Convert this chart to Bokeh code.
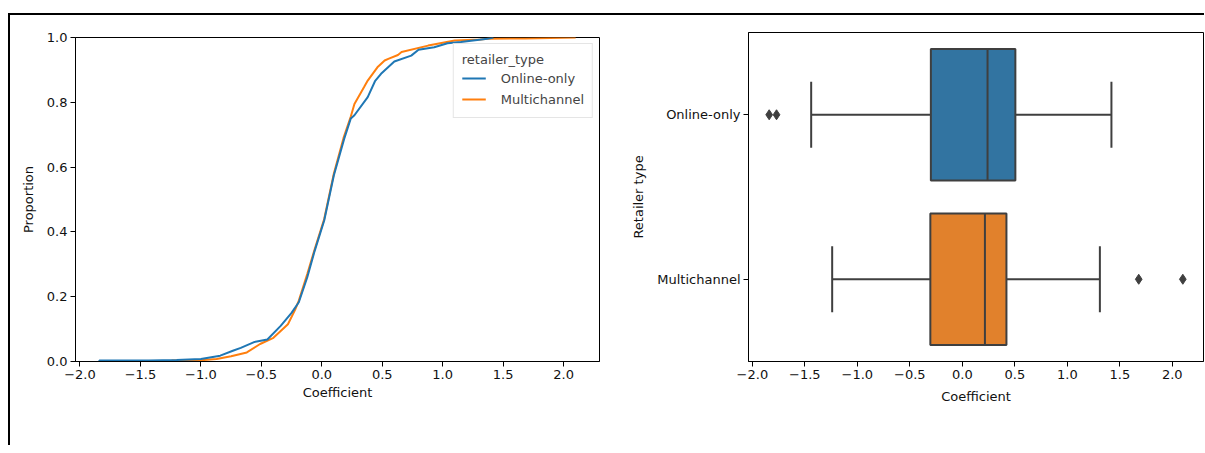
from bokeh.plotting import figure
from bokeh.layouts import row, column
from bokeh.models import (Range1d, FactorRange, FixedTicker, CustomJSTickFormatter,
                          Legend, LegendItem, ColumnDataSource)
from bokeh.transform import dodge
from bokeh.embed import file_html
from bokeh.resources import INLINE

# ---- ECDF points ----
online_x = [-1.84, -1.84, -1.43, -1.20, -1.00, -0.84, -0.73, -0.67, -0.56, -0.45, -0.34, -0.25,
            -0.19, -0.12, -0.06, 0.02, 0.10, 0.185, 0.24, 0.27, 0.38, 0.44, 0.49, 0.60, 0.74,
            0.80, 0.93, 1.04, 1.15, 1.37, 1.42]
online_p = [0.0, 0.003, 0.003, 0.005, 0.008, 0.018, 0.034, 0.042, 0.060, 0.068, 0.110, 0.150,
            0.183, 0.260, 0.340, 0.435, 0.575, 0.687, 0.750, 0.760, 0.816, 0.865, 0.888, 0.926, 0.944,
            0.962, 0.970, 0.982, 0.986, 0.996, 1.0]

multi_x = [-1.24, -1.24, -1.00, -0.87, -0.75, -0.62, -0.51, -0.40, -0.28, -0.22, -0.19, -0.12,
           -0.06, 0.02, 0.10, 0.18, 0.24, 0.27, 0.35, 0.38, 0.46, 0.52, 0.55, 0.63, 0.66, 0.88,
           1.10, 1.31, 1.37, 1.68, 2.10]
multi_p = [0.0, 0.003, 0.004, 0.008, 0.016, 0.028, 0.054, 0.073, 0.115, 0.160, 0.188, 0.270,
           0.345, 0.440, 0.580, 0.690, 0.756, 0.795, 0.847, 0.867, 0.908, 0.929, 0.934, 0.946, 0.955,
           0.975, 0.991, 0.994, 0.996, 0.997, 1.0]

# ---- box plot summary ----
retailer_types = ["Online-only", "Multichannel"]
box_q1 = [-0.30, -0.305]
box_med = [0.24, 0.215]
box_q3 = [0.505, 0.42]
whisk_lo = [-1.44, -1.24]
whisk_hi = [1.42, 1.31]
online_outliers = [-1.84, -1.77]
multi_outliers = [1.68, 2.10]

x_ticks = [-2.0, -1.5, -1.0, -0.5, 0.0, 0.5, 1.0, 1.5, 2.0]
y_ticks = [0.0, 0.2, 0.4, 0.6, 0.8, 1.0]

line_colors = ["#1f77b4", "#ff7f0e"]
box_colors = ["#3274a1", "#e1812c"]
GRAY = "#3f3f3f"
FONT = "DejaVu Sans"

all_vals = online_x + multi_x + online_outliers + multi_outliers
lo, hi = min(all_vals), max(all_vals)
pad = 0.05 * (hi - lo)
XLO, XHI = lo - pad, hi + pad

fmt = CustomJSTickFormatter(code="return tick.toFixed(1).replace('-', '\\u2212');")


def style(p):
    p.grid.visible = False
    p.outline_line_color = "black"
    p.outline_line_width = 1
    p.background_fill_color = "white"
    p.border_fill_color = "white"
    for ax in p.axis:
        ax.major_label_text_font = FONT
        ax.major_label_text_font_size = "13px"
        ax.major_label_text_color = "#111111"
        ax.axis_label_text_font = FONT
        ax.axis_label_text_font_size = "13px"
        ax.axis_label_text_font_style = "normal"
        ax.axis_label_text_color = "#111111"
        ax.major_tick_out = 5
        ax.major_tick_in = 0
        ax.minor_tick_out = 0
        ax.minor_tick_in = 0
        ax.axis_line_color = "black"
        ax.major_tick_line_color = "black"
        ax.major_label_standoff = 3


# ---- left: ECDF ----
p1 = figure(frame_width=524, frame_height=324, min_border_left=65, min_border_right=11,
            min_border_top=22, min_border_bottom=84,
            x_range=Range1d(XLO, XHI), y_range=Range1d(0, 1),
            output_backend="svg", toolbar_location=None)
style(p1)
r_mu = p1.line(multi_x, multi_p, line_color=line_colors[1], line_width=2)
r_on = p1.line(online_x, online_p, line_color=line_colors[0], line_width=2)
p1.xaxis.ticker = FixedTicker(ticks=x_ticks)
p1.xaxis.formatter = fmt
p1.yaxis.ticker = FixedTicker(ticks=y_ticks)
p1.yaxis.formatter = CustomJSTickFormatter(code="return tick.toFixed(1);")
p1.xaxis.axis_label = "Coefficient"
p1.yaxis.axis_label = "Proportion"
p1.xaxis.axis_label_standoff = 3
p1.yaxis.axis_label_standoff = 8

legend = Legend(items=[LegendItem(label=retailer_types[0], renderers=[r_on]),
                       LegendItem(label=retailer_types[1], renderers=[r_mu])],
                title="retailer_type", location="top_right")
legend.margin = 6
legend.padding = 8
legend.title_standoff = 1
legend.title_text_font = FONT
legend.title_text_font_size = "13px"
legend.title_text_font_style = "normal"
legend.label_text_font = FONT
legend.label_text_font_size = "13px"
legend.label_height = 20
legend.glyph_height = 20
legend.glyph_width = 24
legend.label_standoff = 15
legend.spacing = 1
legend.border_line_color = "#cccccc"
legend.border_line_width = 1
legend.background_fill_alpha = 0.8
p1.add_layout(legend)

# ---- right: box plot ----
p2 = figure(frame_width=455, frame_height=329, min_border_left=138, min_border_right=1,
            min_border_top=17, min_border_bottom=84,
            x_range=Range1d(XLO, XHI),
            y_range=FactorRange(factors=list(reversed(retailer_types)), range_padding=0),
            output_backend="svg", toolbar_location=None)
style(p2)
src = ColumnDataSource(dict(cat=retailer_types, q1=box_q1, med=box_med, q3=box_q3,
                            lo=whisk_lo, hi=whisk_hi, color=box_colors))
yr = p2.y_range
p2.segment(x0="lo", y0="cat", x1="q1", y1="cat", source=src, line_color=GRAY, line_width=2)
p2.segment(x0="q3", y0="cat", x1="hi", y1="cat", source=src, line_color=GRAY, line_width=2)
p2.segment(x0="lo", y0=dodge("cat", -0.2, range=yr), x1="lo", y1=dodge("cat", 0.2, range=yr),
           source=src, line_color=GRAY, line_width=2)
p2.segment(x0="hi", y0=dodge("cat", -0.2, range=yr), x1="hi", y1=dodge("cat", 0.2, range=yr),
           source=src, line_color=GRAY, line_width=2)
p2.hbar(y="cat", left="q1", right="q3", height=0.8, fill_color="color", line_color=GRAY,
        line_width=2, source=src)
p2.segment(x0="med", y0=dodge("cat", -0.4, range=yr), x1="med", y1=dodge("cat", 0.4, range=yr),
           source=src, line_color=GRAY, line_width=2)
p2.scatter(x=online_outliers, y=[retailer_types[0]] * len(online_outliers), marker="diamond",
           size=10, fill_color=GRAY, line_color=GRAY)
p2.scatter(x=multi_outliers, y=[retailer_types[1]] * len(multi_outliers), marker="diamond",
           size=10, fill_color=GRAY, line_color=GRAY)
p2.xaxis.ticker = FixedTicker(ticks=x_ticks)
p2.xaxis.formatter = fmt
p2.xaxis.axis_label = "Coefficient"
p2.yaxis.axis_label = "Retailer type"
p2.xaxis.axis_label_standoff = 7
p2.yaxis.axis_label_standoff = 8

lay = row(column(p1), column(p2),
          styles={"border-top": "2px solid black", "border-left": "2px solid black",
                  "margin-top": "13px", "margin-left": "8px"})

open("out.html", "w").write(file_html(lay, INLINE))
